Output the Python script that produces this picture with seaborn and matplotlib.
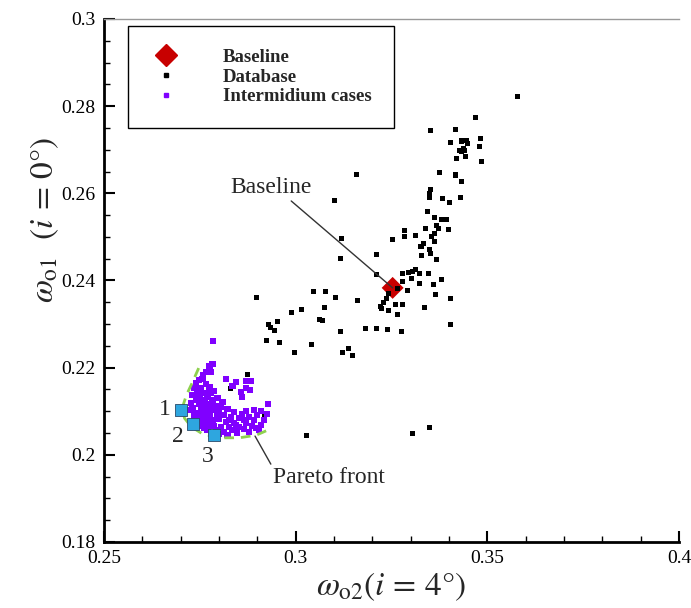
# Scatter of the loss coefficients at two incidence angles: database samples,
# intermediate optimisation cases, the baseline and the Pareto front points

import matplotlib
matplotlib.use('Agg')
from matplotlib import pyplot as plt
from matplotlib.lines import Line2D
from matplotlib.ticker import MultipleLocator, FuncFormatter
import seaborn as sb

# Baseline design
baseline_x = [0.3253]
baseline_y = [0.2383]

# Database samples
database_x = [0.3470, 0.3352, 0.3417, 0.3404, 0.3432, 0.3445, 0.3448, 0.3483, 0.3480, 0.3428,
              0.3437, 0.3441, 0.3432, 0.3444, 0.3420, 0.3485, 0.3159, 0.3375, 0.3418, 0.3432,
              0.3352, 0.3350, 0.3348, 0.3383, 0.3402, 0.3431, 0.3102, 0.3343, 0.3363, 0.3381,
              0.3393, 0.3367, 0.3372, 0.3340, 0.3398, 0.3284, 0.3363, 0.3284, 0.3313, 0.3253,
              0.3355, 0.3362, 0.3119, 0.3333, 0.3327, 0.3350, 0.3353, 0.3329, 0.3210, 0.3367,
              0.3117, 0.3313, 0.3305, 0.3294, 0.3279, 0.3322, 0.3346, 0.3212, 0.3303, 0.3381,
              0.3279, 0.3324, 0.3359, 0.3266, 0.3292, 0.3365, 0.3404, 0.3104, 0.3162, 0.3242,
              0.3238, 0.3229, 0.3221, 0.3225, 0.3242, 0.3260, 0.3279, 0.3335, 0.3266, 0.3404,
              0.3182, 0.3212, 0.3240, 0.2899, 0.3046, 0.3079, 0.2990, 0.3015, 0.3075, 0.3062,
              0.3069, 0.2952, 0.2929, 0.2935, 0.2944, 0.2924, 0.2959, 0.3042, 0.2996, 0.3118,
              0.3121, 0.3138, 0.3149, 0.2830, 0.2874, 0.2918, 0.2736, 0.3027, 0.3304, 0.3349,
              0.3276, 0.3580]
database_y = [0.2773, 0.2744, 0.2747, 0.2717, 0.2720, 0.2722, 0.2715, 0.2726, 0.2708, 0.2699,
              0.2703, 0.2698, 0.2695, 0.2684, 0.2679, 0.2672, 0.2644, 0.2648, 0.2642, 0.2626,
              0.2608, 0.2600, 0.2591, 0.2587, 0.2578, 0.2590, 0.2583, 0.2558, 0.2545, 0.2540,
              0.2540, 0.2527, 0.2520, 0.2520, 0.2516, 0.2514, 0.2508, 0.2500, 0.2503, 0.2494,
              0.2500, 0.2489, 0.2496, 0.2485, 0.2477, 0.2471, 0.2462, 0.2458, 0.2459, 0.2447,
              0.2451, 0.2426, 0.2420, 0.2418, 0.2416, 0.2415, 0.2416, 0.2413, 0.2405, 0.2403,
              0.2397, 0.2392, 0.2390, 0.2382, 0.2376, 0.2368, 0.2359, 0.2361, 0.2353, 0.2371,
              0.2359, 0.2349, 0.2341, 0.2336, 0.2332, 0.2346, 0.2346, 0.2337, 0.2321, 0.2298,
              0.2290, 0.2290, 0.2288, 0.2361, 0.2375, 0.2375, 0.2326, 0.2334, 0.2338, 0.2311,
              0.2309, 0.2305, 0.2299, 0.2293, 0.2286, 0.2263, 0.2257, 0.2254, 0.2235, 0.2282,
              0.2234, 0.2244, 0.2227, 0.2153, 0.2185, 0.2091, 0.2151, 0.2045, 0.2048, 0.2062,
              0.2284, 0.2823]

# Intermediate cases of the optimisation
inter_x = [0.2785, 0.2783, 0.2775, 0.2767, 0.2747, 0.2757, 0.2819, 0.2845, 0.2871, 0.2884,
           0.2741, 0.2767, 0.2754, 0.2775, 0.2788, 0.2871, 0.2881, 0.2744, 0.2762, 0.2731,
           0.2749, 0.2770, 0.2861, 0.2741, 0.2757, 0.2783, 0.2928, 0.2728, 0.2749, 0.2767,
           0.2793, 0.2806, 0.2822, 0.2871, 0.2892, 0.2731, 0.2770, 0.2788, 0.2900, 0.2741,
           0.2757, 0.2775, 0.2796, 0.2814, 0.2832, 0.2853, 0.2879, 0.2918, 0.2749, 0.2767,
           0.2783, 0.2801, 0.2819, 0.2840, 0.2871, 0.2887, 0.2897, 0.2770, 0.2788, 0.2806,
           0.2827, 0.2853, 0.2770, 0.2793, 0.2814, 0.2835, 0.2866, 0.2757, 0.2741, 0.2780,
           0.2796, 0.2809, 0.2780, 0.2801, 0.2840, 0.2861, 0.2827, 0.2845, 0.2780, 0.2801,
           0.2822, 0.2848, 0.2879, 0.2910, 0.2910, 0.2736, 0.2759, 0.2778, 0.2858, 0.2835,
           0.2762, 0.2723, 0.2736, 0.2754, 0.2866, 0.2892, 0.2925, 0.2905, 0.2762, 0.2744]
inter_y = [0.2261, 0.2208, 0.2204, 0.2190, 0.2172, 0.2174, 0.2174, 0.2167, 0.2169, 0.2169,
           0.2165, 0.2162, 0.2153, 0.2156, 0.2146, 0.2153, 0.2149, 0.2144, 0.2142, 0.2137,
           0.2135, 0.2133, 0.2133, 0.2126, 0.2123, 0.2126, 0.2117, 0.2119, 0.2117, 0.2114,
           0.2112, 0.2110, 0.2105, 0.2101, 0.2103, 0.2107, 0.2105, 0.2103, 0.2091, 0.2096,
           0.2091, 0.2094, 0.2094, 0.2091, 0.2087, 0.2084, 0.2087, 0.2080, 0.2084, 0.2082,
           0.2080, 0.2082, 0.2075, 0.2073, 0.2073, 0.2066, 0.2062, 0.2068, 0.2066, 0.2064,
           0.2064, 0.2064, 0.2057, 0.2057, 0.2052, 0.2057, 0.2059, 0.2073, 0.2080, 0.2142,
           0.2130, 0.2121, 0.2117, 0.2101, 0.2098, 0.2094, 0.2080, 0.2068, 0.2050, 0.2048,
           0.2045, 0.2050, 0.2052, 0.2068, 0.2101, 0.2153, 0.2183, 0.2190, 0.2144, 0.2158,
           0.2126, 0.2103, 0.2089, 0.2103, 0.2080, 0.2080, 0.2094, 0.2057, 0.2062, 0.2066]

# Selected Pareto points 1, 2, 3
pareto_x = [0.2700, 0.2731, 0.2788]
pareto_y = [0.2103, 0.2071, 0.2046]
pareto_labels = ['1', '2', '3']

# Sketched Pareto front (dashed)
front_x = [0.2747, 0.2731, 0.2715, 0.2705, 0.2710, 0.2728, 0.2757, 0.2801, 0.2853, 0.2897, 0.2923]
front_y = [0.2199, 0.2167, 0.2137, 0.2110, 0.2084, 0.2064, 0.2048, 0.2039, 0.2039, 0.2045, 0.2055]

sb.set_theme(style='ticks')
plt.rcParams['font.family'] = ['Liberation Serif', 'DejaVu Serif']
plt.rcParams['mathtext.fontset'] = 'stix'

fig = plt.figure(figsize=(6.91, 6.08), dpi=100)
ax = fig.add_axes([0.1505, 0.1086, 0.8321, 0.8602])

# Baseline first, database dots end up drawn over it
sb.scatterplot(x=baseline_x, y=baseline_y, marker='D', s=125, color='#c80000', edgecolor='none', ax=ax, zorder=2)
sb.scatterplot(x=database_x, y=database_y, marker='s', s=13, color='black', edgecolor='none', ax=ax, zorder=3)
sb.scatterplot(x=inter_x, y=inter_y, marker='s', s=20, color='#8000ff', edgecolor='none', ax=ax, zorder=4)

ax.plot(front_x, front_y, color='#8fd14f', linestyle=(0, (3.5, 2.5)), linewidth=2, zorder=5)
sb.scatterplot(x=pareto_x, y=pareto_y, marker='s', s=65, color='#2ea6df', edgecolor='#2a4a6a',
               linewidth=0.6, ax=ax, zorder=6)

# Number the Pareto points
for lab, px, py, dx, dy in zip(pareto_labels, pareto_x, pareto_y, [-0.0042, -0.0039, -0.0018], [0.0, -0.0030, -0.0051]):
    ax.text(px + dx, py + dy, lab, fontsize=17, ha='center', va='center')

# Annotations
ax.annotate('Baseline', xy=(baseline_x[0], baseline_y[0]), xytext=(0.2936, 0.2614), fontsize=17,
            ha='center', va='center',
            arrowprops=dict(arrowstyle='-', color='#333333', lw=1, shrinkA=0, shrinkB=0, relpos=(0.7, 0)))
ax.annotate('Pareto front', xy=(0.2894, 0.2043), xytext=(0.3086, 0.1947), fontsize=17,
            ha='center', va='center',
            arrowprops=dict(arrowstyle='-', color='#333333', lw=1, shrinkA=0, shrinkB=0, relpos=(0.0, 1.0)))

# Axes
ax.set_xlim(0.25, 0.4)
ax.set_ylim(0.18, 0.3)
ax.xaxis.set_major_locator(MultipleLocator(0.05))
ax.xaxis.set_minor_locator(MultipleLocator(0.01))
ax.yaxis.set_major_locator(MultipleLocator(0.02))
ax.yaxis.set_minor_locator(MultipleLocator(0.005))
fmt = FuncFormatter(lambda v, p: f'{v:g}')
ax.xaxis.set_major_formatter(fmt)
ax.yaxis.set_major_formatter(fmt)
ax.tick_params(which='both', direction='in', top=False, right=False, labelsize=14, colors='black')
ax.tick_params(which='major', length=8, width=1.5, pad=6)
ax.tick_params(which='minor', length=4, width=1)
for s in ['left', 'bottom']:
    ax.spines[s].set_linewidth(2)
    ax.spines[s].set_color('black')
ax.spines['top'].set_color('#999999')
ax.spines['top'].set_linewidth(1)
ax.spines['right'].set_visible(False)

ax.set_xlabel(r'$\omega_{\mathrm{o2}}(i\,=\,4°)$', fontsize=24, labelpad=2)
ax.set_ylabel(r'$\omega_{\mathrm{o1}}\ \ (i\,=\,0°)$', fontsize=24)
ax.yaxis.set_label_coords(-0.075, 0.615)

# Legend
handles = [Line2D([], [], marker='D', color='#c80000', linestyle='none', markersize=11, label='Baseline'),
           Line2D([], [], marker='s', color='black', linestyle='none', markersize=3.5, label='Database'),
           Line2D([], [], marker='s', color='#8000ff', linestyle='none', markersize=3.5, label='Intermidium cases')]
leg = ax.legend(handles=handles, loc='upper left', bbox_to_anchor=(0.0415, 0.9866), borderaxespad=0,
                frameon=True, fancybox=False, edgecolor='black', framealpha=1,
                prop=dict(family='Liberation Serif', weight='bold', size=13.5),
                borderpad=1.2, handlelength=1.65, handletextpad=2.2, labelspacing=0.15)
leg.get_frame().set_linewidth(1)

plt.savefig('out.png', dpi=100)
